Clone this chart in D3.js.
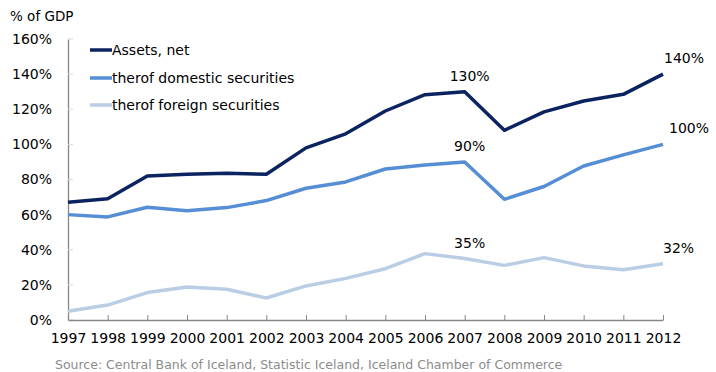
<!DOCTYPE html>
<html>
<head>
<meta charset="utf-8">
<script src="https://cdn.jsdelivr.net/npm/d3@7"></script>
<style>
  html, body { margin: 0; padding: 0; background: #fff; }
  svg { display: block; font-family: "DejaVu Sans", Verdana, sans-serif; }
</style>
</head>
<body>
<svg id="chart" width="716" height="372"></svg>
<script>
// Years on the horizontal axis
const years = [1997, 1998, 1999, 2000, 2001, 2002, 2003, 2004, 2005, 2006, 2007, 2008, 2009, 2010, 2011, 2012];

// Pension fund holdings, % of GDP
const assetsNet = [67, 69, 82, 83, 83.5, 83, 98, 106, 119, 128.3, 130, 108, 118.5, 124.7, 128.5, 140];
const domesticSecurities = [60, 58.7, 64.2, 62.2, 64, 68, 75, 78.6, 86, 88.3, 90, 68.7, 76, 87.7, 94, 100];
const foreignSecurities = [5, 8.5, 15.6, 18.8, 17.5, 12.5, 19.4, 23.7, 29.2, 37.8, 35, 31.1, 35.5, 30.8, 28.6, 32];

// Y-axis ticks (percent)
const yTicks = [0, 20, 40, 60, 80, 100, 120, 140, 160];

const seriesNames = ["Assets, net", "therof domestic securities", "therof foreign securities"];
const seriesColors = ["#0b2461", "#558ed5", "#b9cde5"];
const seriesValues = [assetsNet, domesticSecurities, foreignSecurities];

// Years whose values are written on the chart
const labelledYears = [2007, 2012];

const svg = d3.select("#chart");
const margin = { left: 68, right: 53, top: 39, bottom: 52 };
const W = 716, H = 372;

const x = d3.scaleLinear()
  .domain([years[0], years[years.length - 1]])
  .range([margin.left, W - margin.right]);
const y = d3.scaleLinear()
  .domain([0, 160])
  .range([H - margin.bottom, margin.top]);

// Y axis
const yAxis = svg.append("g")
  .attr("transform", `translate(${margin.left},0)`)
  .call(d3.axisLeft(y).tickValues(yTicks).tickSize(0).tickPadding(16)
    .tickFormat(d => d + "%"));
yAxis.select(".domain").attr("stroke", "#868686").attr("stroke-width", 1.3);
yAxis.selectAll("text").attr("font-size", 14).attr("fill", "#000")
  .attr("font-family", "DejaVu Sans, sans-serif");
// short inward tick marks
svg.append("g").selectAll("line").data(yTicks).join("line")
  .attr("x1", margin.left).attr("x2", margin.left + 5)
  .attr("y1", d => y(d)).attr("y2", d => y(d))
  .attr("stroke", "#d9d9d9").attr("stroke-width", 1);

// X axis
const xAxis = svg.append("g")
  .attr("transform", `translate(0,${y(0)})`)
  .call(d3.axisBottom(x).tickValues(years).tickSize(-5).tickSizeOuter(0)
    .tickPadding(10).tickFormat(d3.format("d")));
xAxis.select(".domain").attr("stroke", "#868686").attr("stroke-width", 1.3);
xAxis.selectAll(".tick line").attr("stroke", "#868686");
xAxis.selectAll("text").attr("font-size", 14).attr("fill", "#000")
  .attr("font-family", "DejaVu Sans, sans-serif")
  .attr("dy", "0.95em");

// Lines
const line = d3.line()
  .x((d, i) => x(years[i]))
  .y(d => y(d));

svg.append("g").selectAll("path").data(seriesValues.slice().reverse()).join("path")
  .attr("d", d => line(d))
  .attr("fill", "none")
  .attr("stroke", (d, i) => seriesColors[seriesColors.length - 1 - i])
  .attr("stroke-width", 3.5)
  .attr("stroke-linejoin", "round");

// Value labels: centred above 2007, starting just right of the 2012 end point
const endOffsets = [0, 5, -1];
const labels = [];
seriesValues.forEach((vals, s) => {
  labelledYears.forEach(yr => {
    const idx = years.indexOf(yr);
    labels.push({ year: yr, value: vals[idx], s });
  });
});
svg.append("g").selectAll("text").data(labels).join("text")
  .attr("x", d => d.year === 2012 ? x(d.year) + 1 + endOffsets[d.s] : x(d.year) + 5)
  .attr("y", d => y(d.value) - 11)
  .attr("text-anchor", d => d.year === 2012 ? "start" : "middle")
  .attr("font-size", 14)
  .attr("fill", "#000")
  .text(d => Math.round(d.value) + "%");

// Legend
const legend = svg.append("g");
const legendRows = [50, 78, 105];
seriesNames.forEach((name, i) => {
  legend.append("line")
    .attr("x1", 90).attr("x2", 112)
    .attr("y1", legendRows[i]).attr("y2", legendRows[i])
    .attr("stroke", seriesColors[i]).attr("stroke-width", 3.5);
  legend.append("text")
    .attr("x", 112).attr("y", legendRows[i])
    .attr("dy", "0.35em")
    .attr("font-size", 14)
    .attr("fill", "#000")
    .text(name);
});

// Unit title
svg.append("text")
  .attr("x", 10).attr("y", 21)
  .attr("font-size", 13.5)
  .attr("fill", "#000")
  .text("% of GDP");

// Source note
svg.append("text")
  .attr("x", 55).attr("y", 368.5)
  .attr("font-size", 12.5)
  .attr("fill", "#8c8c8c")
  .text("Source: Central Bank of Iceland, Statistic Iceland, Iceland Chamber of Commerce");
</script>
</body>
</html>
